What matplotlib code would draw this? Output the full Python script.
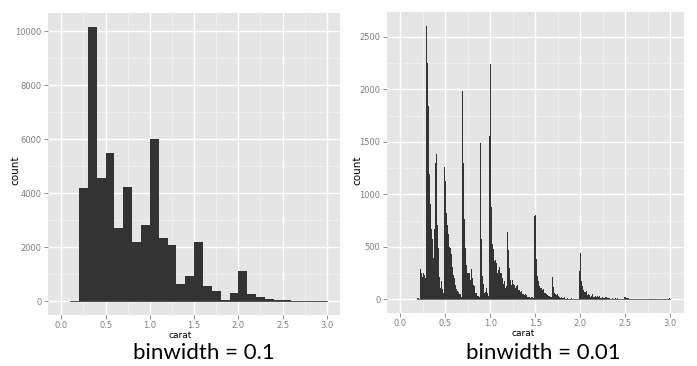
import matplotlib
matplotlib.use('Agg')
import matplotlib.pyplot as plt
import numpy as np

# --- binwidth = 0.1 (left panel), counts ---
coarse_edges = [0.1, 0.2, 0.3, 0.4, 0.5, 0.6, 0.7, 0.8, 0.9, 1.0,
                1.1, 1.2, 1.3, 1.4, 1.5, 1.6, 1.7, 1.8, 1.9, 2.0,
                2.1, 2.2, 2.3, 2.4, 2.5, 2.6, 2.7, 2.8, 2.9]
coarse_counts = [12, 4200, 10150, 4550, 5500, 2720, 4230, 2200, 2830, 6020,
                 2330, 2070, 650, 950, 2190, 580, 400, 60, 300, 1140,
                 290, 180, 90, 50, 50, 10, 10, 0, 8]

# --- binwidth = 0.01 (right panel), one count per carat value 0.20 .. 3.00 ---
fine_start = 0.20
fine_counts = [
    12, 9, 5, 293, 254, 212, 253, 233, 198, 130,            # 0.20
    2604, 2249, 1840, 1189, 910, 667, 572, 394, 670, 398,   # 0.30
    1299, 1382, 706, 488, 212, 110, 178, 99, 63, 45,        # 0.40
    1258, 1127, 817, 709, 625, 496, 492, 430, 310, 282,     # 0.50
    228, 204, 135, 102, 80, 65, 48, 48, 25, 26,             # 0.60
    1981, 1294, 764, 492, 322, 249, 251, 251, 187, 155,     # 0.70
    284, 200, 140, 131, 64, 62, 34, 31, 23, 21,             # 0.80
    1485, 570, 226, 142, 59, 65, 103, 59, 31, 23,           # 0.90
    1558, 2242, 883, 523, 475, 361, 373, 342, 246, 287,     # 1.00
    278, 308, 251, 246, 207, 149, 172, 110, 123, 126,       # 1.10
    645, 473, 300, 187, 137, 187, 146, 134, 106, 101,       # 1.20
    122, 133, 89, 87, 68, 77, 50, 46, 26, 36,               # 1.30
    50, 40, 25, 19, 18, 15, 18, 21, 7, 11,                  # 1.40
    793, 807, 381, 220, 174, 124, 109, 106, 89, 89,         # 1.50
    95, 64, 61, 50, 43, 32, 30, 25, 19, 24,                 # 1.60
    215, 119, 57, 52, 40, 50, 28, 17, 12, 15,               # 1.70
    21, 9, 13, 18, 4, 3, 9, 7, 4, 4,                        # 1.80
    7, 12, 2, 6, 3, 3, 4, 4, 5, 3,                          # 1.90
    265, 440, 177, 122, 86, 67, 72, 78, 48, 45,             # 2.00
    53, 43, 25, 31, 48, 23, 25, 28, 31, 22,                 # 2.10
    32, 23, 27, 12, 16, 18, 15, 12, 20, 17,                 # 2.20
    21, 13, 16, 9, 5, 7, 9, 5, 8, 7,                        # 2.30
    13, 5, 8, 6, 4, 4, 3, 3, 9, 3,                          # 2.40
    17, 17, 9, 8, 9, 3, 3, 3, 3, 1,                         # 2.50
    3, 3, 0, 3, 1, 1, 3, 1, 2, 0,                           # 2.60
    1, 1, 3, 0, 3, 2, 0, 1, 0, 0,                           # 2.70
    2, 0, 0, 0, 0, 0, 0, 0, 0, 0,                           # 2.80
    0, 0, 0, 0, 0, 0, 0, 0, 0, 0,                           # 2.90
    8,                                                      # 3.00
]

x_ticks = [0.0, 0.5, 1.0, 1.5, 2.0, 2.5, 3.0]
PANEL_BG = '#E5E5E5'
BAR = '#333333'
TICK_GREY = '#7F7F7F'


def style_panel(ax, yticks, yminor, ylim, xlab_x, ylab_x, ylab_y):
    ax.set_facecolor(PANEL_BG)
    ax.set_xlim(-0.15, 3.15)
    ax.set_ylim(*ylim)
    ax.set_xticks(x_ticks)
    ax.set_xticklabels([f'{t:.1f}' for t in x_ticks])
    ax.set_xticks(np.arange(0.25, 3.0, 0.5), minor=True)
    ax.set_yticks(yticks)
    ax.set_yticks(yminor, minor=True)
    for s in ax.spines.values():
        s.set_visible(False)
    ax.grid(True, which='major', color='white', linewidth=1.0)
    ax.grid(True, which='minor', color='#F2F2F2', linewidth=0.5)
    ax.set_axisbelow(True)
    ax.tick_params(which='major', length=3, width=0.6, color=TICK_GREY,
                   labelcolor=TICK_GREY, labelsize=6, pad=1.5)
    ax.tick_params(which='minor', length=0)
    ax.set_xlabel('carat', fontsize=6.5, va='center')
    ax.xaxis.set_label_coords(xlab_x, -0.067)
    ax.set_ylabel('count', fontsize=7.5, va='center')
    ax.yaxis.set_label_coords(ylab_x, ylab_y)


fig = plt.figure(figsize=(6.97, 3.66), dpi=100)

# left: binwidth 0.1
ax1 = fig.add_axes([0.069, 0.139, 0.419, 0.826])
ax1.bar(coarse_edges, coarse_counts, width=0.1, align='edge',
        color=BAR, linewidth=0)
ax1.axhline(0, xmin=(0.1 + 0.15) / 3.3, xmax=(3.0 + 0.15) / 3.3,
            color=BAR, linewidth=0.6, zorder=1)
style_panel(ax1, [0, 2000, 4000, 6000, 8000, 10000],
            [1000, 3000, 5000, 7000, 9000], (-507, 10680),
            0.452, -0.113, 0.48)

# right: binwidth 0.01
fine_left = fine_start - 0.01 + 0.01 * np.arange(len(fine_counts))
ax2 = fig.add_axes([0.555, 0.145, 0.426, 0.822])
ax2.bar(fine_left, fine_counts, width=0.01, align='edge',
        color=BAR, linewidth=0)
ax2.axhline(0, xmin=(0.19 + 0.15) / 3.3, xmax=(3.0 + 0.15) / 3.3,
            color=BAR, linewidth=0.5, zorder=1)
style_panel(ax2, [0, 500, 1000, 1500, 2000, 2500],
            [250, 750, 1250, 1750, 2250], (-130, 2735),
            0.458, -0.099, 0.475)

fig.text(204 / 697, 0.02, 'binwidth = 0.1', ha='center', va='baseline',
         fontsize=16, family='Lato', color='black')
fig.text(543 / 697, 0.02, 'binwidth = 0.01', ha='center', va='baseline',
         fontsize=16, family='Lato', color='black')

fig.savefig('out.png', dpi=100)
